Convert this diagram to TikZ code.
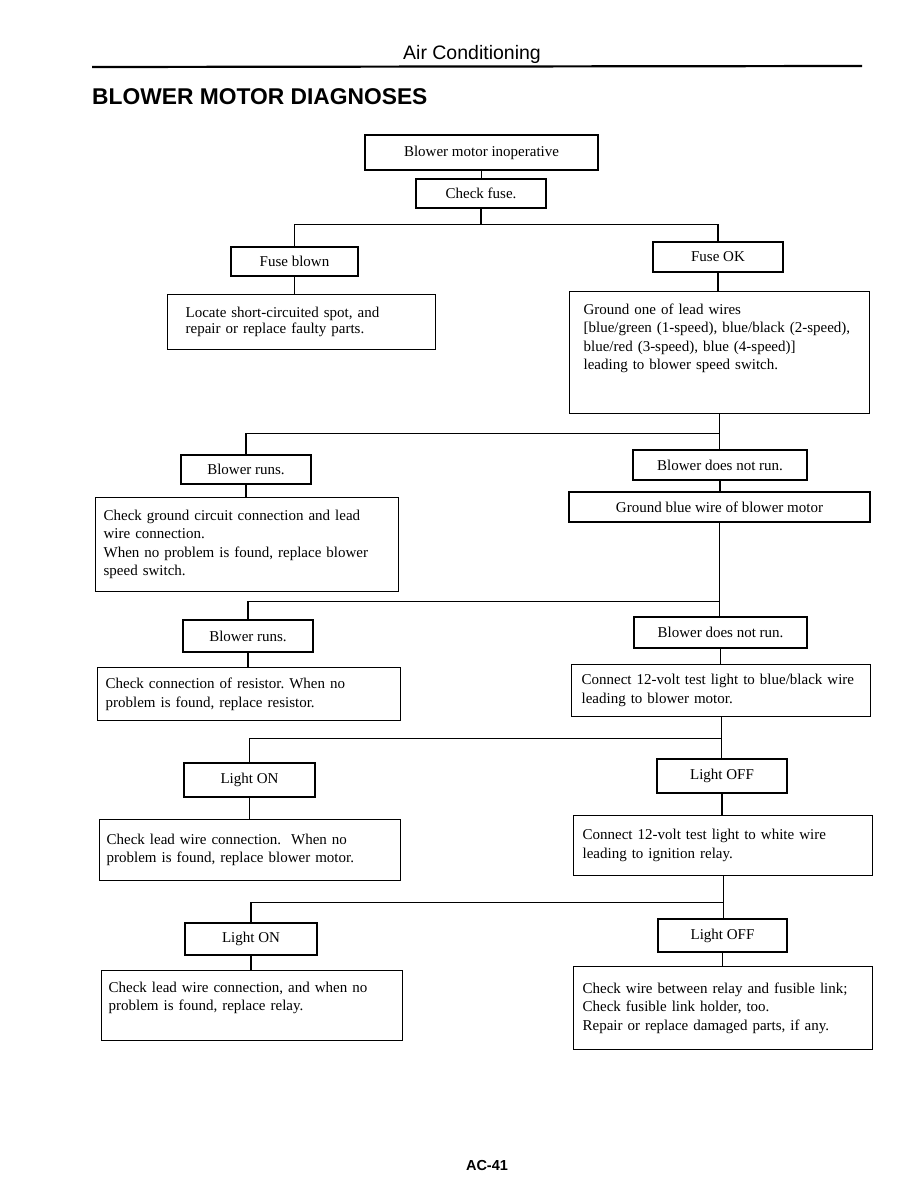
\documentclass[tikz,border=0pt]{standalone}
\usepackage{fontspec}
\setmainfont{Liberation Serif}
\newfontfamily\headfont{Liberation Sans}
\usetikzlibrary{calc}
\frenchspacing

\begin{document}
\begin{tikzpicture}[
  x=1pt, y=-1pt,
  every node/.style={font=\fontsize{15}{18.5}\selectfont},
  tag/.style={draw, line width=1.2pt, inner sep=0pt, align=center},
  note/.style={draw, line width=1.2pt, anchor=north west, inner ysep=0pt,
               align=left},
  link/.style={line width=1.2pt},
]
  \useasboundingbox (0,0) rectangle (918,1188);
  \fill[white] (0,0) rectangle (918,1188);

  % page heading
  \node[font=\headfont\fontsize{19.5}{22}\selectfont] (head) at (472,54) {Air Conditioning};
  \draw[line width=2.2pt] (92,67) -- (862,66);
  \node[anchor=west, inner sep=0pt, font=\headfont\bfseries\fontsize{22.8}{26}\selectfont]
    (title) at (92,97) {BLOWER MOTOR DIAGNOSES};

  % top of the chart
  \node[tag, minimum width=233, minimum height=35] (inop)    at (481.5,152.5) {Blower motor inoperative};
  \node[tag, minimum width=130, minimum height=29] (chkfuse) at (481,193.5)   {Check fuse.};
  \node[tag, minimum width=127, minimum height=29] (blown)   at (294.5,261.5) {Fuse blown};
  \node[tag, minimum width=130, minimum height=30] (fuseok)  at (718,257)     {Fuse OK};
  \node[note, minimum height=55, text width=232, inner xsep=18,
        font=\fontsize{15}{16}\selectfont] (locate) at (167,294)
    {Locate short-circuited spot, and\\repair or replace faulty parts.};
  \node[note, minimum height=122, text width=272, inner xsep=14] (gone) at (569,291)
    {Ground one of lead wires\\
     {[}blue/green (1-speed), blue/black (2-speed),\\
     blue/red (3-speed), blue (4-speed){]}\\
     leading to blower speed switch.\\[13pt]\mbox{}};

  % blower speed switch
  \node[tag, minimum width=130, minimum height=29] (runs1) at (246,469.5) {Blower runs.};
  \node[note, minimum height=94, text width=287, inner xsep=8] (chkgnd) at (95,497)
    {Check ground circuit connection and lead\\wire connection.\\
     When no problem is found, replace blower\\speed switch.};
  \node[tag, minimum width=174, minimum height=30] (bdnr1) at (720,465)   {Blower does not run.};
  \node[tag, minimum width=301, minimum height=30] (gblue) at (719.5,507) {Ground blue wire of blower motor};

  % resistor
  \node[tag, minimum width=130, minimum height=32] (runs2) at (248,636) {Blower runs.};
  \node[note, minimum height=53, text width=287, inner xsep=8] (chkres) at (97,667)
    {Check connection of resistor. When no\\problem is found, replace resistor.};
  \node[tag, minimum width=173, minimum height=31] (bdnr2) at (720.5,632.5) {Blower does not run.};
  \node[note, minimum height=52, text width=279, inner xsep=10] (conbb) at (571,664)
    {Connect 12-volt test light to blue/black wire\\leading to blower motor.};

  % blower motor
  \node[tag, minimum width=131, minimum height=34] (lon1) at (249.5,780) {Light ON};
  \node[note, minimum height=61, text width=287, inner xsep=7] (chklw1) at (99,819)
    {Check lead wire connection.\ \ When no\\problem is found, replace blower motor.};
  \node[tag, minimum width=130, minimum height=34] (loff1) at (722,776) {Light OFF};
  \node[note, minimum height=60, text width=281, inner xsep=9] (conwh) at (573,815)
    {Connect 12-volt test light to white wire\\leading to ignition relay.};

  % relay
  \node[tag, minimum width=132, minimum height=32] (lon2) at (251,939) {Light ON};
  \node[note, minimum height=70, text width=287, inner xsep=7] (chklw2) at (101,970)
    {Check lead wire connection, and when no\\problem is found, replace relay.\\\mbox{}};
  \node[tag, minimum width=129, minimum height=33] (loff2) at (722.5,935.5) {Light OFF};
  \node[note, minimum height=83, text width=281, inner xsep=9] (fusible) at (573,966)
    {Check wire between relay and fusible link;\\Check fusible link holder, too.\\
     Repair or replace damaged parts, if any.};

  \node[font=\headfont\bfseries\fontsize{14.5}{16}\selectfont] (page) at (487,1165) {AC-41};

  % straight drops
  \foreach \a/\b in {inop/chkfuse, blown/locate, fuseok/gone, runs1/chkgnd,
                     bdnr1/gblue, runs2/chkres, bdnr2/conbb, lon1/chklw1,
                     loff1/conwh, lon2/chklw2, loff2/fusible,
                     gone/bdnr1, gblue/bdnr2, conbb/loff1, conwh/loff2}
    \draw[link] (\a.south) -- (\a.south |- \b.north);

  % branches
  \draw[link] (chkfuse.south) -- ++(0,16) coordinate (fork);
  \draw[link] (blown.north) |- (fork) -| (fuseok.north);
  \foreach \l/\u/\d in {runs1/gone/21, runs2/gblue/18, lon1/conbb/24, lon2/conwh/20}
    \draw[link] (\l.north) -- ++(0,-\d) -| (\u.south);
\end{tikzpicture}
\end{document}
